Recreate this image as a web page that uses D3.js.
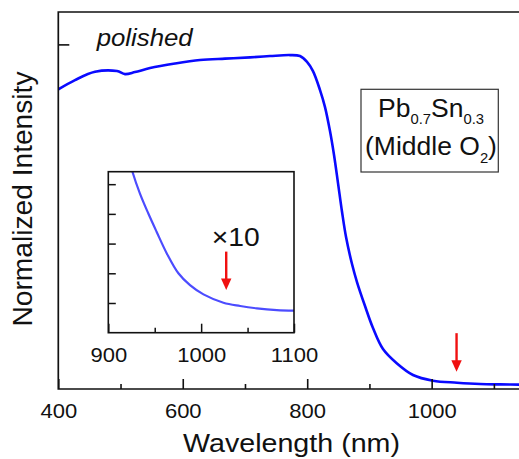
<!DOCTYPE html>
<html><head><meta charset="utf-8">
<script src="https://cdn.jsdelivr.net/npm/d3@7"></script>
<style>
html,body{margin:0;padding:0;background:#fff;}
svg{display:block;}
text{font-family:"Liberation Sans",Arial,sans-serif;fill:#111;}
</style></head>
<body>
<svg id="chart" width="519" height="459"></svg>
<script>
// ---------------- data ----------------
const mainWavelength = [400,426.8,459,494.3,507.2,523.3,547.4,587.5,627.7,667.9,708.1,740.2,772.4,788.4,799.7,809.3,820.6,828.6,836.6,843.1,849.5,856,862.4,872,880,892.9,905.7,921.8,944.3,970,1002.2,1040.7,1077.7,1109.9,1150];
const mainIntensity  = [0.8695,0.8964,0.9205,0.9226,0.9138,0.9197,0.9312,0.9443,0.9545,0.9588,0.9623,0.9661,0.969,0.9661,0.9495,0.9226,0.8674,0.8181,0.7485,0.6789,0.5976,0.5135,0.441,0.3626,0.3104,0.2408,0.177,0.116,0.074,0.0406,0.0241,0.0183,0.0145,0.0133,0.0125];
const insetWavelength = [921,926,934,943,952,963,975.5,988,1002.5,1024,1042,1060,1081.5,1100];
const insetIntensity  = [6.0,5.42,4.69,4.02,3.40,2.67,2.0,1.60,1.29,1.01,0.90,0.82,0.76,0.74];
const mainXTicks = [400,600,800,1000];
const mainXMinor = [500,700,900,1100];
const mainYTicks = [1];
const insetXTicks = [900,1000,1100];
const insetXMinor = [950,1050];
const insetYTicks = [1,2,3,4,5];
const mainArrow = {wl:1040, from:0.162, to:0.050};
const insetArrow = {wl:1027, from:2.73, to:1.44};
const xLabel = "Wavelength (nm)";
const yLabel = "Normalized Intensity";

// ---------------- layout ----------------
const svg = d3.select("#chart");
const M = {left:58.3, top:12, bottom:389, right:525};
const x = d3.scaleLinear().domain([400,1150]).range([M.left, M.right]);
const y = d3.scaleLinear().domain([0,1.094]).range([M.bottom, M.top]);
const I = {left:108.3, right:294, top:171.7, bottom:332.7};
const ix = d3.scaleLinear().domain([900,1100]).range([I.left, I.right]);
const iy = d3.scaleLinear().domain([0,5.42]).range([I.bottom, I.top]);

const defs = svg.append("defs");
defs.append("clipPath").attr("id","mainclip").append("rect")
  .attr("x",M.left).attr("y",M.top).attr("width",M.right-M.left).attr("height",M.bottom-M.top);
defs.append("clipPath").attr("id","insetclip").append("rect")
  .attr("x",I.left).attr("y",I.top).attr("width",I.right-I.left).attr("height",I.bottom-I.top);

// main curve
const mainData = mainWavelength.map((w,i)=>[w,mainIntensity[i]]);
svg.append("path").datum(mainData)
  .attr("clip-path","url(#mainclip)")
  .attr("fill","none").attr("stroke","#0a0aff").attr("stroke-width",2.6)
  .attr("stroke-linejoin","round")
  .attr("d", d3.line().curve(d3.curveCatmullRom.alpha(0.5)).x(d=>x(d[0])).y(d=>y(d[1])));

// main frame
svg.append("path")
  .attr("d",`M${M.right},${M.top}H${M.left}V${M.bottom}H${M.right}`)
  .attr("fill","none").attr("stroke","#111").attr("stroke-width",1.7);

const ax = svg.append("g").attr("transform",`translate(0,${M.bottom})`)
  .call(d3.axisBottom(x).tickValues(mainXTicks).tickSize(-10).tickSizeOuter(0).tickPadding(15).tickFormat(d3.format("d")));
ax.select(".domain").remove();
ax.selectAll("line").attr("stroke","#111").attr("stroke-width",1.6);
ax.selectAll("text").attr("font-size",20).attr("fill","#111").attr("transform","scale(1.1,1)")
  .style("font-family","'Liberation Sans',Arial,sans-serif");
const axm = svg.append("g").attr("transform",`translate(0,${M.bottom})`)
  .call(d3.axisBottom(x).tickValues(mainXMinor).tickSize(-5).tickSizeOuter(0).tickFormat(""));
axm.select(".domain").remove();
axm.selectAll("line").attr("stroke","#111").attr("stroke-width",1.6);

const ay = svg.append("g").attr("transform",`translate(${M.left},0)`)
  .call(d3.axisLeft(y).tickValues(mainYTicks).tickSize(-11).tickSizeOuter(0).tickFormat(""));
ay.select(".domain").remove();
ay.selectAll("line").attr("stroke","#111").attr("stroke-width",1.6);

// axis labels
svg.append("text").attr("x",291.5).attr("y",451.7).attr("text-anchor","middle")
  .attr("font-size",25.5).attr("textLength",217).attr("lengthAdjust","spacingAndGlyphs").text(xLabel);
svg.append("text").attr("transform","translate(31.5,199) rotate(-90)").attr("text-anchor","middle")
  .attr("font-size",27.5).attr("textLength",255).attr("lengthAdjust","spacingAndGlyphs").text(yLabel);

// polished
svg.append("text").attr("x",96.7).attr("y",45.7).attr("font-size",24).attr("font-style","italic")
  .attr("textLength",96).attr("lengthAdjust","spacingAndGlyphs").text("polished");

// arrows
function arrow(g, xp, y1, y2, color){
  const head = 11.5, hw = 5.2;
  g.append("line").attr("x1",xp).attr("x2",xp).attr("y1",y1).attr("y2",y2-head+1)
    .attr("stroke",color).attr("stroke-width",2.4);
  g.append("path").attr("d",`M${xp-hw},${y2-head}L${xp+hw},${y2-head}L${xp},${y2}Z`).attr("fill",color);
}
arrow(svg, x(mainArrow.wl), y(mainArrow.from), y(mainArrow.to), "#f01010");

// label box
const bx = {x:361, y:89.3, w:137.3, h:82.7};
svg.append("rect").attr("x",bx.x).attr("y",bx.y).attr("width",bx.w).attr("height",bx.h)
  .attr("fill","#fff").attr("stroke","#333").attr("stroke-width",1.2);
const lg = svg.append("g").attr("transform","translate(431,0) scale(1.06,1)");
const t1 = lg.append("text").attr("x",0).attr("y",116.7).attr("text-anchor","middle").attr("font-size",25);
t1.append("tspan").text("Pb");
t1.append("tspan").attr("font-size",14).attr("dy",7.6).text("0.7");
t1.append("tspan").attr("dy",-7.6).text("Sn");
t1.append("tspan").attr("font-size",14).attr("dy",7.6).text("0.3");
const t2 = lg.append("text").attr("x",0).attr("y",155.5).attr("text-anchor","middle").attr("font-size",25);
t2.append("tspan").text("(Middle O");
t2.append("tspan").attr("font-size",14).attr("dy",7.8).text("2");
t2.append("tspan").attr("dy",-7.8).text(")");

// ---------------- inset ----------------
svg.append("rect").attr("x",I.left).attr("y",I.top).attr("width",I.right-I.left).attr("height",I.bottom-I.top)
  .attr("fill","#fff");
const insetData = insetWavelength.map((w,i)=>[w,insetIntensity[i]]);
svg.append("path").datum(insetData).attr("clip-path","url(#insetclip)")
  .attr("fill","none").attr("stroke","#4c4cff").attr("stroke-width",2.2).attr("stroke-linejoin","round")
  .attr("d", d3.line().curve(d3.curveCatmullRom.alpha(0.5)).x(d=>ix(d[0])).y(d=>iy(d[1])));
svg.append("rect").attr("x",I.left).attr("y",I.top).attr("width",I.right-I.left).attr("height",I.bottom-I.top)
  .attr("fill","none").attr("stroke","#111").attr("stroke-width",1.6);

const iax = svg.append("g").attr("transform",`translate(0,${I.bottom})`)
  .call(d3.axisBottom(ix).tickValues(insetXTicks).tickSize(-9).tickSizeOuter(0).tickPadding(14.7).tickFormat(d3.format("d")));
iax.select(".domain").remove();
iax.selectAll("line").attr("stroke","#111").attr("stroke-width",1.5);
iax.selectAll("text").attr("font-size",20).attr("fill","#111").attr("transform","scale(1.1,1)")
  .style("font-family","'Liberation Sans',Arial,sans-serif");
const iaxm = svg.append("g").attr("transform",`translate(0,${I.bottom})`)
  .call(d3.axisBottom(ix).tickValues(insetXMinor).tickSize(-5).tickSizeOuter(0).tickFormat(""));
iaxm.select(".domain").remove();
iaxm.selectAll("line").attr("stroke","#111").attr("stroke-width",1.5);
const iay = svg.append("g").attr("transform",`translate(${I.left},0)`)
  .call(d3.axisLeft(iy).tickValues(insetYTicks).tickSize(-7.5).tickSizeOuter(0).tickFormat(""));
iay.select(".domain").remove();
iay.selectAll("line").attr("stroke","#111").attr("stroke-width",1.5);

svg.append("text").attr("x",211.7).attr("y",246).attr("font-size",25)
  .attr("textLength",48).attr("lengthAdjust","spacingAndGlyphs").text("×10");
arrow(svg, ix(insetArrow.wl), iy(insetArrow.from), iy(insetArrow.to), "#f01010");
</script>
</body></html>
